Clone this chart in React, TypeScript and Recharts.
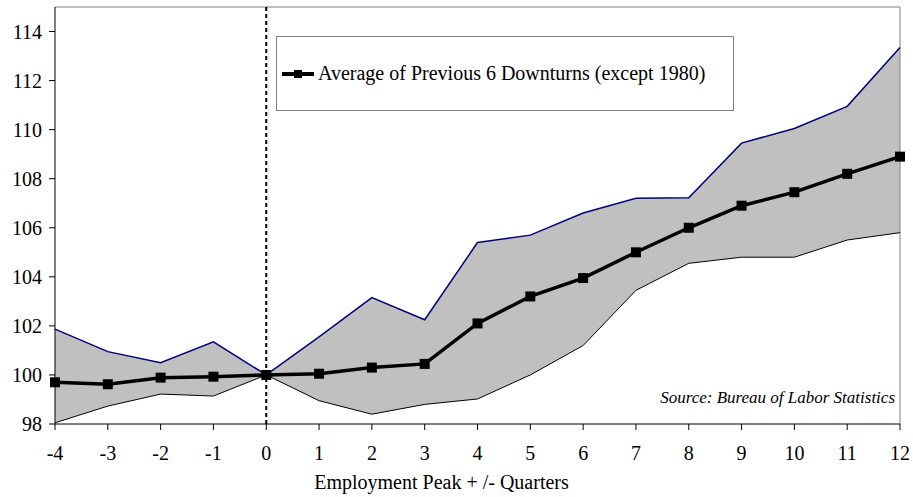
import React from 'react';
import {
  ComposedChart,
  Area,
  Line,
  XAxis,
  YAxis,
  ReferenceLine,
} from 'recharts';

const quarters = [-4, -3, -2, -1, 0, 1, 2, 3, 4, 5, 6, 7, 8, 9, 10, 11, 12];
const average = [99.7, 99.62, 99.89, 99.93, 100, 100.05, 100.3, 100.45, 102.1, 103.2, 103.95, 105.0, 106.0, 106.9, 107.45, 108.2, 108.9];
const upper = [101.87, 100.95, 100.5, 101.35, 100, 101.55, 103.15, 102.25, 105.4, 105.7, 106.6, 107.2, 107.22, 109.45, 110.05, 110.95, 113.35];
const lower = [98.05, 98.73, 99.22, 99.14, 100, 98.95, 98.4, 98.8, 99.02, 100.0, 101.2, 103.45, 104.55, 104.8, 104.8, 105.5, 105.8];
const yTicks = [98, 100, 102, 104, 106, 108, 110, 112, 114];

const data = quarters.map((q, i) => ({
  q,
  avg: average[i],
  upper: upper[i],
  lower: lower[i],
  band: [lower[i], upper[i]],
}));

const FONT = '"Liberation Serif", "Times New Roman", serif';

const LegendBox = () => (
  <div
    style={{
      position: 'absolute',
      left: 276,
      top: 36,
      width: 458,
      height: 75,
      border: '1px solid #808080',
      background: '#fff',
      display: 'flex',
      alignItems: 'center',
      fontFamily: FONT,
      fontSize: 20,
      color: '#000',
      boxSizing: 'border-box',
    }}
  >
    <svg width={36} height={12} style={{ marginLeft: 5 }}>
      <line x1={0} y1={6} x2={32} y2={6} stroke="#000" strokeWidth={4} />
      <rect x={12} y={2} width={8} height={8} fill="#000" />
    </svg>
    <span style={{ marginLeft: 0 }}>Average of Previous 6 Downturns (except 1980)</span>
  </div>
);

const App: React.FC = () => {
  return (
    <div style={{ position: 'fixed', left: 0, top: 0, width: 913, height: 497, background: '#fff' }}>
      <ComposedChart
        width={913}
        height={497}
        data={data}
        margin={{ top: 7, right: 13, bottom: 0, left: 0 }}
        style={{ overflow: 'visible' }}
      >
        <XAxis
          dataKey="q"
          type="number"
          domain={[-4, 12]}
          ticks={quarters}
          interval={0}
          height={73}
          stroke="#000"
          tickSize={6}
          tick={{ fill: '#000', fontFamily: FONT, fontSize: 20 }}
          tickMargin={16}
          label={{
            value: 'Employment Peak + /- Quarters',
            position: 'insideBottom',
            offset: 8,
            dx: -36,
            style: { fill: '#000', fontFamily: FONT, fontSize: 20 },
          }}
        />
        <YAxis
          type="number"
          domain={[98, 115]}
          ticks={yTicks}
          interval={0}
          width={55}
          stroke="#000"
          tickSize={6}
          tick={{ fill: '#000', fontFamily: FONT, fontSize: 20 }}
          tickMargin={7}
        />
        <ReferenceLine y={115} stroke="#808080" strokeWidth={1} />
        <ReferenceLine x={12} stroke="#808080" strokeWidth={1} />
        <Area
          dataKey="band"
          stroke="none"
          fill="#c0c0c0"
          fillOpacity={1}
          isAnimationActive={false}
        />
        <Line
          dataKey="upper"
          stroke="#000080"
          strokeWidth={1.5}
          dot={false}
          isAnimationActive={false}
        />
        <Line
          dataKey="lower"
          stroke="#000"
          strokeWidth={1}
          dot={false}
          isAnimationActive={false}
        />
        <ReferenceLine x={0} stroke="#000" strokeWidth={2} strokeDasharray="4 3" />
        <Line
          dataKey="avg"
          stroke="#000"
          strokeWidth={3.5}
          dot={(props: any) => (
            <rect
              key={`d-${props.index}`}
              x={props.cx - 5}
              y={props.cy - 5}
              width={10}
              height={10}
              fill="#000"
            />
          )}
          isAnimationActive={false}
        />
        <text
          x={895}
          y={403}
          textAnchor="end"
          fontFamily={FONT}
          fontSize={17}
          fontStyle="italic"
          fill="#000"
        >
          Source: Bureau of Labor Statistics
        </text>
      </ComposedChart>
      <LegendBox />
    </div>
  );
};

export default App;
